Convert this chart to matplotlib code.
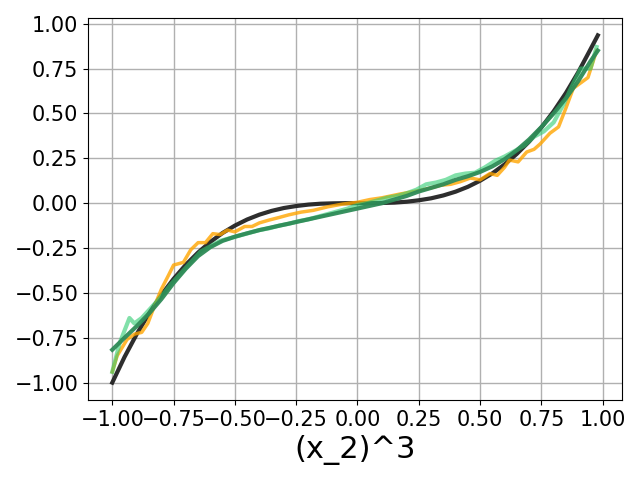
import matplotlib as mpl
import matplotlib.pyplot as plt

mpl.use('Agg')

# true curve
x_true = [-1.00, -0.95, -0.90, -0.85, -0.80, -0.75, -0.70, -0.65, -0.60, -0.55,
          -0.50, -0.45, -0.40, -0.35, -0.30, -0.25, -0.20, -0.15, -0.10, -0.05,
          0.00, 0.05, 0.10, 0.15, 0.20, 0.25, 0.30, 0.35, 0.40, 0.45,
          0.50, 0.55, 0.60, 0.65, 0.70, 0.75, 0.80, 0.85, 0.90, 0.95, 0.98]
y_true = [-1.000, -0.857, -0.729, -0.614, -0.512, -0.422, -0.343, -0.275, -0.216, -0.166,
          -0.125, -0.091, -0.064, -0.043, -0.027, -0.016, -0.008, -0.003, -0.001, 0.000,
          0.000, 0.000, 0.001, 0.003, 0.008, 0.016, 0.027, 0.043, 0.064, 0.091,
          0.125, 0.166, 0.216, 0.275, 0.343, 0.422, 0.512, 0.614, 0.729, 0.857, 0.935]

# smooth fit (dark green)
y_smooth = [-0.817, -0.750, -0.685, -0.615, -0.535, -0.445, -0.365, -0.295, -0.245, -0.210,
            -0.187, -0.168, -0.150, -0.135, -0.120, -0.105, -0.090, -0.075, -0.060, -0.045,
            -0.030, -0.015, 0.000, 0.020, 0.040, 0.065, 0.085, 0.105, 0.130, 0.150,
            0.174, 0.205, 0.245, 0.295, 0.355, 0.424, 0.500, 0.585, 0.680, 0.790, 0.850]

# jagged estimate (orange)
x_orange = [-1.00, -0.98, -0.94, -0.91, -0.88, -0.855, -0.83, -0.80, -0.77, -0.75,
            -0.71, -0.68, -0.65, -0.62, -0.59, -0.56, -0.53, -0.50, -0.46, -0.43,
            -0.40, -0.36, -0.32, -0.28, -0.23, -0.18, -0.12, -0.06, 0.00, 0.05,
            0.10, 0.17, 0.25, 0.30, 0.34, 0.38, 0.42, 0.46, 0.50, 0.54,
            0.57, 0.60, 0.62, 0.655, 0.69, 0.72, 0.745, 0.785, 0.82, 0.85,
            0.88, 0.91, 0.94, 0.975]
y_orange = [-0.94, -0.85, -0.76, -0.73, -0.72, -0.67, -0.58, -0.48, -0.40, -0.345,
            -0.33, -0.26, -0.22, -0.22, -0.17, -0.175, -0.15, -0.16, -0.13, -0.13,
            -0.11, -0.094, -0.08, -0.065, -0.05, -0.04, -0.02, -0.005, 0.005, 0.02,
            0.03, 0.05, 0.07, 0.085, 0.10, 0.105, 0.12, 0.14, 0.13, 0.165,
            0.155, 0.20, 0.24, 0.23, 0.285, 0.30, 0.33, 0.39, 0.425, 0.53,
            0.64, 0.67, 0.70, 0.85]

# jagged estimate (light green)
x_light = [-1.00, -0.97, -0.93, -0.91, -0.88, -0.84, -0.80, -0.76, -0.72, -0.68,
           -0.64, -0.60, -0.56, -0.52, -0.48, -0.44, -0.40, -0.36, -0.32, -0.28,
           -0.24, -0.20, -0.16, -0.12, -0.08, -0.04, 0.00, 0.04, 0.08, 0.12,
           0.16, 0.20, 0.24, 0.28, 0.32, 0.36, 0.40, 0.44, 0.48, 0.52,
           0.56, 0.60, 0.64, 0.68, 0.72, 0.76, 0.80, 0.84, 0.87, 0.91,
           0.95, 0.975]
y_light = [-0.94, -0.78, -0.64, -0.67, -0.64, -0.58, -0.52, -0.45, -0.39, -0.33,
           -0.27, -0.24, -0.21, -0.195, -0.18, -0.165, -0.15, -0.14, -0.125, -0.115,
           -0.10, -0.09, -0.075, -0.06, -0.045, -0.03, -0.01, 0.00, 0.015, 0.03,
           0.04, 0.055, 0.075, 0.105, 0.115, 0.13, 0.155, 0.165, 0.17, 0.20,
           0.235, 0.26, 0.29, 0.32, 0.37, 0.40, 0.45, 0.55, 0.64, 0.75,
           0.75, 0.87]

x_ticks = [-1.00, -0.75, -0.50, -0.25, 0.00, 0.25, 0.50, 0.75, 1.00]

fig, ax = plt.subplots(figsize=(6.4, 4.8), dpi=100)
plt.subplots_adjust(left=0.1375, right=0.972, top=0.9625, bottom=0.1667)

ax.plot(x_true, y_true, color='#222222', alpha=0.95, linewidth=3, zorder=3)
ax.plot(x_orange, y_orange, color='orange', alpha=0.8, linewidth=2.5, zorder=4)
ax.plot(x_light, y_light, color='#2ECC71', alpha=0.6, linewidth=3, zorder=5)
ax.plot(x_true, y_smooth, color='#2E8B57', alpha=0.95, linewidth=3, zorder=6)

ax.set_xticks(x_ticks)
ax.grid(True, color='#b0b0b0', linewidth=1)
ax.set_axisbelow(True)
ax.tick_params(labelsize=15)
ax.set_xlabel('(x_2)^3', fontsize=22)

fig.savefig('out.png', dpi=100)
plt.close('all')
